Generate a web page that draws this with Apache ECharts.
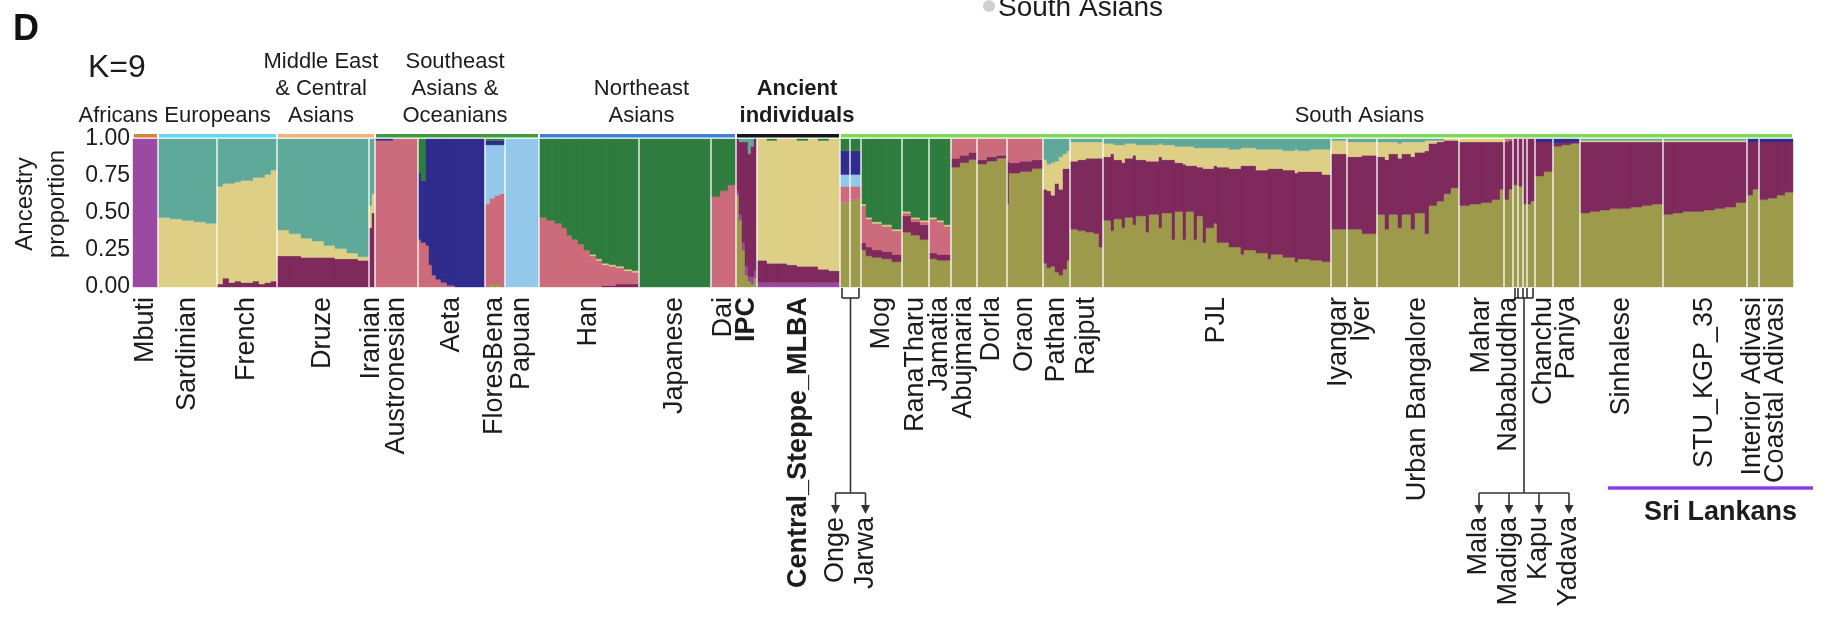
<!DOCTYPE html>
<html>
<head>
<meta charset="utf-8">
<script src="https://cdn.jsdelivr.net/npm/echarts@6/dist/echarts.min.js"></script>
<style>
html,body{margin:0;padding:0;background:#fff;}
#chart{width:1842px;height:640px;}
</style>
</head>
<body>
<div id="chart"></div>
<script>
// ---------------- DATA ----------------
// Ancestry components, in stacking order bottom -> top
// O: South Asian (AASI-like, olive)  P: African (purple)  M: Iranian-related (maroon)
// K: Austronesian (pink)  Y: Steppe/European (yellow)  T: European (teal)
// L: Papuan (light blue)  B: Aeta/Andamanese (dark blue)  G: East Asian (green)
const componentKeys = ['O','P','M','K','Y','T','L','B','G'];

// Population blocks: [number of samples, proportion of each listed component except the last; last = remainder]
const Mbuti = [[25]];
const Sardinian = [[12,.47],[12,.46],[12,.45],[12,.44],[11,.43]];
const French = [[6,.02,.66],[6,.06,.64],[6,.03,.67],[6,.04,.67],[6,.03,.69],[6,.03,.69],[6,.04,.70],[6,.02,.72],[6,.03,.73],[6,.04,.75]];
const Druze = [[12,.21,.175],[12,.21,.15],[11,.20,.13],[12,.20,.11],[11,.20,.08],[12,.19,.07],[11,.19,.04],[11,.18,.025]];
const Iranian = [[3,.40,.15],[3,.50,.13]];
const Austronesian = [[18,.99],[25,1]];
const Aeta = [[3,.32,.45],[5,.30,.42],[3,.28,.72],[3,.15,.85],[4,.08,.92],[5,.05,.95],[6,.03,.97],[8,.01,.99],[30,0,1]];
const FloresBena = [[5,0,.56,.40,.03],[5,.02,.58,.36,.03],[5,.02,.60,.34,.03],[5,0,.63,.33,.03]];
const Papuan = [[34]];
const Han = [[8,0,.47,0],[8,0,.45,0],[7,0,.43,0],[5,0,.40,0],[5,0,.35,0],[6,0,.32,0],[6,0,.29,0],[6,0,.25,0],[6,0,.21,.01],[6,0,.18,.01],[7,.01,.14,.01],[7,.01,.13,.01],[8,.02,.11,.01],[8,.02,.09,.01],[7,.02,.08,.01]];
const Japanese = [[72]];
const Dai = [[9,.61],[8,.65],[8,.69]];
const IPC = [[3,.62,.03,.35],[3,.45,.04,.49],[3,.25,.05,.68],[3,.08,.06,.84],[3,.04,.03,.83],[3,.02,.05,.88],[3,.06,.05,.89]];
const Central_Steppe_MLBA = [[10,.03,.15,.82],[10,.03,.13,.83],[10,.03,.13,.84],[10,.03,.12,.85],[11,.03,.11,.85],[10,.03,.11,.86],[11,.03,.09,.87],[11,.03,.08,.89]];
const Onge = [[10,.57,.11,.08,.16]];
const Jarwa = [[11,.59,.09,.08,.16]];
const Mog = [[5,.25,.05,.25,.01],[6,.21,.06,.19,.01],[10,.20,.05,.18,.01],[10,.19,.05,.17,.01],[10,.17,.05,.16,.01]];
const RanaTharu = [[9,.37,.11,.02,.01],[9,.35,.09,.02,.01],[9,.32,.10,.02,.01]];
const Jamatia = [[8,.19,.04,.23,.01],[7,.18,.04,.22,.01],[7,.18,.04,.19,.01]];
const Abujmaria = [[9,.81,.06],[9,.84,.05],[8,.86,.05]];
const Dorla = [[10,.83,.03],[10,.85,.03],[10,.87,.02]];
const Oraon = [[2,.56,.29],[11,.77,.07],[12,.78,.07],[11,.80,.06]];
const Pathan = [[4,.16,.50,.20],[4,.13,.52,.18],[4,.14,.48,.22],[4,.10,.60,.15],[4,.08,.58,.22],[4,.12,.68,.10],[3,.18,.62,.12]];
const Rajput = [[8,.39,.46,.13],[8,.38,.48,.12],[8,.37,.50,.11],[5,.36,.51,.11],[4,.27,.60,.11]];
const PJL = [[8,.45,.43,.09],[3,.38,.52,.07],[8,.46,.40,.10],[3,.40,.44,.12],[8,.47,.40,.10],[3,.42,.47,.08],[10,.48,.38,.10],[3,.37,.48,.11],[10,.49,.36,.11],[3,.40,.48,.09],[10,.50,.36,.10],[3,.32,.54,.10],[8,.51,.33,.11],[3,.32,.51,.12],[8,.51,.31,.13],[3,.32,.50,.12],[6,.48,.33,.13],[3,.30,.50,.14],[8,.40,.40,.14],[3,.43,.39,.12],[12,.30,.51,.13],[12,.27,.53,.13],[3,.22,.60,.12],[12,.25,.57,.12],[12,.23,.56,.14],[3,.19,.61,.13],[12,.22,.58,.13],[12,.20,.59,.13],[3,.17,.60,.16],[12,.19,.59,.14],[12,.18,.60,.15],[9,.17,.59,.17]];
const Iyangar = [[16,.39,.51,.09]];
const Iyer = [[15,.39,.49,.10],[15,.36,.53,.09]];
const Urban_Bangalore = [[8,.49,.39,.10],[4,.39,.47,.12],[9,.49,.41,.08],[4,.40,.47,.10],[9,.49,.41,.08],[4,.39,.49,.10],[10,.50,.41,.07],[4,.36,.56,.07],[8,.55,.42,.02],[7,.58,.40,.01],[7,.63,.36,.01],[8,.67,.32,.01]];
const Mahar = [[11,.55,.43],[11,.56,.42],[11,.57,.41],[8,.59,.39],[4,.66,.32]];
const Nababuddha = [[5,.59,.39],[4,.66,.33]];
const Mala = [[5,.69]];
const Madiga = [[5,.68]];
const Kapu = [[4,.56]];
const Yadava = [[4,.56],[4,.58]];
const Chanchu = [[9,.75,.23],[9,.78,.20]];
const Paniya = [[9,.95,.02],[9,.96,.02],[9,.97,.01]];
const Sinhalese = [[10,.50,.48,.01],[10,.51,.47,.01],[10,.52,.46,.01],[11,.53,.45,.01],[10,.53,.45,.01],[11,.54,.44,.01],[10,.55,.43,.01],[11,.56,.42,.01]];
const STU_KGP_35 = [[10,.49,.49,.01],[10,.50,.48,.01],[11,.51,.47,.01],[10,.51,.47,.01],[11,.52,.46,.01],[10,.53,.45,.01],[11,.54,.44,.01],[11,.57,.41,.01]];
const Interior_Adivasi = [[6,.62,.36],[6,.66,.32]];
const Coastal_Adivasi = [[9,.59,.39],[9,.60,.38],[8,.62,.36],[8,.64,.34]];

const populationNames = ['Mbuti','Sardinian','French','Druze','Iranian','Austronesian','Aeta','FloresBena','Papuan','Han','Japanese','Dai','IPC','Central_Steppe_MLBA','Onge','Jarwa','Mog','RanaTharu','Jamatia','Abujmaria','Dorla','Oraon','Pathan','Rajput','PJL','Iyangar','Iyer','Urban Bangalore','Mahar','Nababuddha','Mala','Madiga','Kapu','Yadava','Chanchu','Paniya','Sinhalese','STU_KGP_35','Interior Adivasi','Coastal Adivasi'];
const populationComponents = ['P','YT','MYT','MYT','MYT','KB','KBG','OKLBG','L','MKYG','G','KG','OPMT','PMYG','OKLBG','OKLBG','OMKYG','OMKYG','OMKYG','OMK','OMK','OMK','OMYT','OMYT','OMYT','OMYT','OMYT','OMYT','OMY','OMK','OM','OM','OM','OM','OMB','OMB','OMYT','OMYT','OMB','OMB'];
const populationBlocks = [Mbuti,Sardinian,French,Druze,Iranian,Austronesian,Aeta,FloresBena,Papuan,Han,Japanese,Dai,IPC,Central_Steppe_MLBA,Onge,Jarwa,Mog,RanaTharu,Jamatia,Abujmaria,Dorla,Oraon,Pathan,Rajput,PJL,Iyangar,Iyer,Urban_Bangalore,Mahar,Nababuddha,Mala,Madiga,Kapu,Yadava,Chanchu,Paniya,Sinhalese,STU_KGP_35,Interior_Adivasi,Coastal_Adivasi];
const boldPopulations = ['IPC','Central_Steppe_MLBA'];

const groupNames = ['Africans','Europeans','Middle East\n& Central\nAsians','Southeast\nAsians &\nOceanians','Northeast\nAsians','Ancient\nindividuals','South Asians'];
const groupFirst = ['Mbuti','Sardinian','Druze','Austronesian','Han','IPC','Onge'];
const groupLast = ['Mbuti','French','Iranian','Papuan','Dai','Central_Steppe_MLBA','Coastal Adivasi'];

const bracketMembers = [['Onge','Jarwa'],['Mala','Madiga','Kapu','Yadava']];
const sriLankanFirst = 'Sinhalese', sriLankanLast = 'Coastal Adivasi';

const yTicks = [0, 0.25, 0.5, 0.75, 1];

// ---------------- STYLE ----------------
const componentColors = ['#9d9b4b','#9b4aa1','#7e2a5d','#cc6b7b','#ddd086','#5fa99b','#93c8ea','#2f2c8e','#2f7c3f'];
const groupColors = ['#d8843c','#62d5f0','#f2b07b','#3f9b3e','#3f7fd8','#151515','#80d85a'];
const groupLabelShift = [0, 0, -5, -2, 4, 9, 43];
const FONT = '"Liberation Sans", Arial, Helvetica, sans-serif';
const TXT = '#1c1c1c';

// ---------------- BUILD ----------------
const barData = [];
const popStart = [], popEnd = [];
let cursor = 0;
populationBlocks.forEach((blocks, pi) => {
  const comps = populationComponents[pi];
  popStart.push(cursor);
  blocks.forEach(b => {
    const n = b[0];
    const fr = new Array(componentKeys.length).fill(0);
    let sum = 0;
    for (let j = 0; j < comps.length - 1; j++) {
      const v = b[1 + j] || 0;
      fr[componentKeys.indexOf(comps[j])] += v;
      sum += v;
    }
    fr[componentKeys.indexOf(comps[comps.length - 1])] += Math.max(0, 1 - sum);
    barData.push([cursor, cursor + n].concat(fr));
    cursor += n;
  });
  popEnd.push(cursor);
});
const totalSamples = cursor;
const idxOf = n => populationNames.indexOf(n);

const bracketed = [].concat(...bracketMembers);
const labelData = [];
populationNames.forEach((n, i) => {
  if (bracketed.indexOf(n) < 0) labelData.push([(popStart[i] + popEnd[i]) / 2, i]);
});
const separatorData = popEnd.slice(0, -1).map(v => [v]);
const groupData = groupNames.map((g, gi) => [popStart[idxOf(groupFirst[gi])], popEnd[idxOf(groupLast[gi])], gi]);
const bracketData = bracketMembers.map((m, bi) => [popStart[idxOf(m[0])], popEnd[idxOf(m[m.length - 1])], bi]);
const sriData = [[popStart[idxOf(sriLankanFirst)], popEnd[idxOf(sriLankanLast)]]];

function renderBlock(params, api) {
  const x0 = api.value(0), x1 = api.value(1);
  const children = [];
  let acc = 0;
  for (let c = 0; c < componentKeys.length; c++) {
    const v = api.value(2 + c);
    if (!(v > 0)) continue;
    const pb = api.coord([x0, acc]);
    const pt = api.coord([x1, Math.min(1, acc + v)]);
    acc += v;
    children.push({
      type: 'rect',
      shape: { x: pb[0], y: pt[1], width: pt[0] - pb[0], height: pb[1] - pt[1] },
      style: { fill: componentColors[c], stroke: componentColors[c], lineWidth: 0.4 }
    });
  }
  return { type: 'group', children };
}

function renderSeparator(params, api) {
  const a = api.coord([api.value(0), 0]);
  const b = api.coord([api.value(0), 1]);
  return { type: 'line', shape: { x1: a[0], y1: a[1], x2: b[0], y2: b[1] }, style: { stroke: '#ffffff', lineWidth: 1.3 } };
}

function renderLabel(params, api) {
  const i = api.value(1);
  const p = api.coord([api.value(0), 0]);
  const name = populationNames[i];
  const bold = boldPopulations.indexOf(name) >= 0;
  return {
    type: 'text', x: p[0], y: p[1] + 10, rotation: Math.PI / 2,
    style: { text: name, align: 'right', verticalAlign: 'middle', font: (bold ? 'bold ' : '') + '27px ' + FONT, fill: TXT }
  };
}

function renderGroup(params, api) {
  const gi = api.value(2);
  const a = api.coord([api.value(0), 1]);
  const b = api.coord([api.value(1), 1]);
  const top = a[1];
  const right = gi === 0;
  const tx = right ? b[0] : (a[0] + b[0]) / 2 + groupLabelShift[gi];
  return {
    type: 'group',
    children: [
      { type: 'rect', shape: { x: a[0] + 1, y: top - 5, width: b[0] - a[0] - 2, height: 3.6 }, style: { fill: groupColors[gi] } },
      { type: 'text', x: tx, y: top - 9.5, style: {
          text: groupNames[gi], align: right ? 'right' : 'center', verticalAlign: 'bottom',
          font: (gi === 5 ? 'bold ' : '') + '22px ' + FONT, lineHeight: 27, fill: TXT } }
    ]
  };
}

function renderBracket(params, api) {
  const bi = api.value(2);
  const members = bracketMembers[bi];
  const base = api.coord([0, 0])[1];
  const idx = members.map(idxOf);
  const bounds = [popStart[idx[0]]].concat(idx.map(i => popEnd[i]));
  const px = bounds.map(v => api.coord([v, 0])[0]);
  const children = [];
  const line = (x1, y1, x2, y2) => children.push({ type: 'line', shape: { x1, y1, x2, y2 }, style: { stroke: '#333', lineWidth: 1.6 } });
  const boxTop = base + 1, boxBot = base + 11;
  const first = px[0] + 2, last = px[px.length - 1] - 2;
  px.forEach((x, k) => {
    const outer = k === 0 || k === px.length - 1;
    if (!outer && members.length <= 2) return;
    const xx = k === 0 ? first : (k === px.length - 1 ? last : x);
    line(xx, boxTop, xx, boxBot);
  });
  line(first, boxBot, last, boxBot);
  const cx = (first + last) / 2;
  const hy = base + 206;
  line(cx, boxBot, cx, hy);
  const labX = members.map((m, k) => cx + (k - (members.length - 1) / 2) * 30);
  line(labX[0], hy, labX[labX.length - 1], hy);
  labX.forEach((x, k) => {
    line(x, hy, x, hy + 13);
    children.push({ type: 'polygon', shape: { points: [[x - 4.5, hy + 12], [x + 4.5, hy + 12], [x, hy + 21]] }, style: { fill: '#333' } });
    children.push({ type: 'text', x: x, y: hy + 24, rotation: Math.PI / 2,
      style: { text: members[k], align: 'right', verticalAlign: 'middle', font: '27px ' + FONT, fill: TXT } });
  });
  return { type: 'group', children };
}

function renderSri(params, api) {
  const base = api.coord([0, 0])[1];
  const x0 = api.coord([api.value(0), 0])[0] + 28;
  const x1 = api.coord([api.value(1), 0])[0] + 20;
  return {
    type: 'group',
    children: [
      { type: 'line', shape: { x1: x0, y1: base + 201, x2: x1, y2: base + 201 }, style: { stroke: '#8a3fe2', lineWidth: 3.5 } },
      { type: 'text', x: (x0 + x1) / 2 + 10, y: base + 226, style: { text: 'Sri Lankans', align: 'center', verticalAlign: 'middle', font: 'bold 27px ' + FONT, fill: TXT } }
    ]
  };
}

const chart = echarts.init(document.getElementById('chart'), null, { renderer: 'canvas' });
chart.setOption({
  animation: false,
  backgroundColor: '#ffffff',
  grid: { left: 133, right: 49, top: 139, bottom: 353, containLabel: false },
  xAxis: { type: 'value', min: 0, max: totalSamples, show: false },
  yAxis: {
    type: 'value', min: yTicks[0], max: yTicks[yTicks.length - 1], interval: yTicks[1] - yTicks[0],
    axisLine: { show: false }, axisTick: { show: false }, splitLine: { show: false },
    axisLabel: { formatter: v => v.toFixed(2), fontSize: 23, fontFamily: FONT, color: TXT, margin: 3 }
  },
  graphic: [
    { type: 'text', x: 13, y: 12, style: { text: 'D', font: 'bold 36px ' + FONT, fill: '#111', verticalAlign: 'top' } },
    { type: 'text', x: 88, y: 52, style: { text: 'K=9', font: '32px ' + FONT, fill: TXT, verticalAlign: 'top' } },
    { type: 'text', x: 41, y: 204, rotation: Math.PI / 2, style: { text: 'Ancestry\nproportion', font: '24px ' + FONT, lineHeight: 32, align: 'center', verticalAlign: 'middle', fill: TXT } },
    { type: 'circle', shape: { cx: 989, cy: 6, r: 6 }, style: { fill: '#d0d0d0' } },
    { type: 'text', x: 998, y: 22, style: { text: 'South Asians', font: '28px ' + FONT, fill: TXT, verticalAlign: 'bottom' } }
  ],
  series: [
    { type: 'custom', name: 'ancestry', silent: true, clip: false, renderItem: renderBlock, data: barData },
    { type: 'custom', name: 'separators', silent: true, clip: false, renderItem: renderSeparator, data: separatorData },
    { type: 'custom', name: 'labels', silent: true, clip: false, renderItem: renderLabel, data: labelData },
    { type: 'custom', name: 'groups', silent: true, clip: false, renderItem: renderGroup, data: groupData },
    { type: 'custom', name: 'brackets', silent: true, clip: false, renderItem: renderBracket, data: bracketData },
    { type: 'custom', name: 'sriLankans', silent: true, clip: false, renderItem: renderSri, data: sriData }
  ]
});
</script>
</body>
</html>
